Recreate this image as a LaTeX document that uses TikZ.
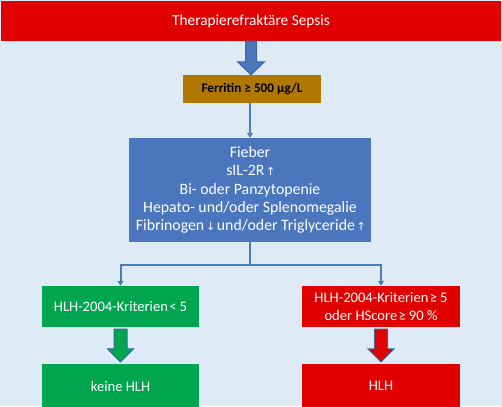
\documentclass[tikz,border=0pt]{standalone}
\usepackage{fontspec}
\setmainfont{Carlito}
\newfontfamily\symfont{DejaVu Sans}
\usetikzlibrary{calc,arrows.meta}
\definecolor{bgblue}{HTML}{DEEBF7}
\definecolor{sred}{HTML}{E00000}
\definecolor{ferr}{HTML}{B07800}
\definecolor{bbox}{HTML}{4A76BE}
\definecolor{sgreen}{HTML}{00A550}
\definecolor{lineblue}{HTML}{4A7EBB}
\definecolor{edgeblue}{HTML}{3D669E}
\newcommand\upar{\makebox[0.36em]{\symfont\fontsize{11}{11}\selectfont\raisebox{0.3pt}{↑}}}
\newcommand\downar{\makebox[0.36em]{\symfont\fontsize{11}{11}\selectfont\raisebox{0.3pt}{↓}}}
\newcommand\blockarrow[6]{%
  \draw[fill=#1,draw=#2,line width=1pt,line join=miter]
    let \p1=(#3), \p2=(#4) in
    (\x1-#5,\y1) -- (\x1+#5,\y1) -- (\x1+#5,\y2+13pt) -- (\x1+#6,\y2+13pt)
    -- (\x1,\y2) -- (\x1-#6,\y2+13pt) -- (\x1-#5,\y2+13pt) -- cycle;}
\tikzset{
  box/.style={rectangle,inner sep=0pt,align=center,text=white,font=\fontsize{14.6}{18.2}\selectfont},
  conn/.style={draw=lineblue,line width=2pt,-{Triangle[length=5pt,width=6pt]}},
}
\begin{document}
\begin{tikzpicture}[x=1pt,y=-1pt]
\fill[bgblue] (0,0) rectangle (502,406);
\useasboundingbox (0,0) rectangle (502,406);
\node[box,fill=sred,minimum width=500pt,minimum height=40pt,font=\fontsize{15.3}{18}\selectfont] (sepsis) at (251,21) {Therapierefraktäre Sepsis};
\node[box,fill=ferr,text=black,minimum width=138pt,minimum height=28pt,font=\bfseries\fontsize{13.2}{16}\selectfont] (ferritin) at (252,89) {Ferritin ≥ 500 µg/L};
\node[box,fill=bbox,minimum width=242pt,minimum height=104pt,font=\fontsize{15.8}{18.3}\selectfont] (crit) at (250,190)
  {Fieber\\ sIL-2R\hspace{0.22em}\upar\\ Bi- oder Panzytopenie\\ Hepato- und/oder Splenomegalie\\ Fibrinogen\hspace{0.22em}\downar\hspace{0.22em}und/oder Triglyceride\hspace{0.22em}\upar};
\node[box,fill=sgreen,minimum width=157pt,minimum height=41pt] (lt) at (120.5,306.5) {HLH-2004-Kriterien\hspace{0.1em}<\hspace{0.2em}5};
\node[box,fill=sred,minimum width=158pt,minimum height=41pt] (ge) at (381,306.5) {HLH-2004-Kriterien\hspace{0.1em}≥\hspace{0.2em}5\\ oder HScore\hspace{0.1em}≥\hspace{0.2em}90 \%};
\node[box,fill=sgreen,minimum width=157pt,minimum height=44pt] (no) at (120.5,386) {keine HLH};
\node[box,fill=sred,minimum width=158pt,minimum height=44pt] (yes) at (381,386) {HLH};
\blockarrow{bbox}{edgeblue}{sepsis.south}{ferritin.north}{5.5pt}{13.5pt}
\blockarrow{sgreen}{edgeblue}{$(lt.south)+(0,2)$}{$(no.north)+(0,-2)$}{6.5pt}{13pt}
\blockarrow{sred}{edgeblue}{$(ge.south)+(0,2)$}{$(yes.north)+(0,-2)$}{6.5pt}{13pt}
\draw[conn] (ferritin.south -| crit.north) -- (crit.north);
\coordinate (split) at ($(crit.south)+(0,23)$);
\draw[draw=lineblue,line width=2pt] (crit.south) -- (split);
\draw[conn] (split) -| (lt.north);
\draw[conn] (split) -| (ge.north);
\end{tikzpicture}
\end{document}
